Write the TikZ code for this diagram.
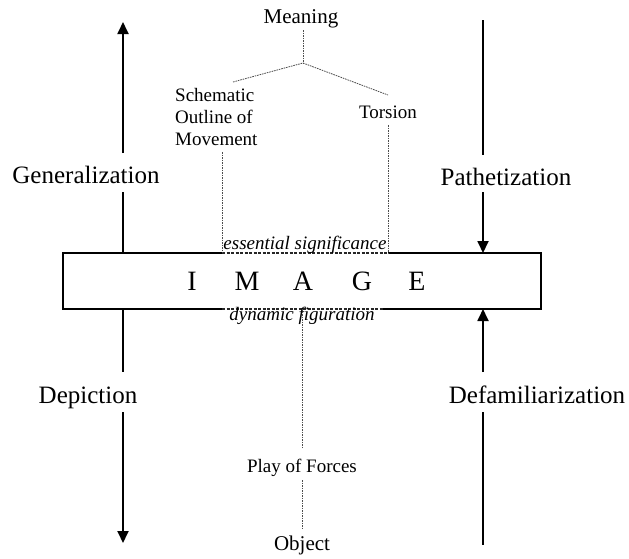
\documentclass[tikz,border=0pt]{standalone}
\usepackage{fontspec}
\setmainfont{Liberation Serif}
\usetikzlibrary{arrows.meta}
\begin{document}
\begin{tikzpicture}[x=1pt,y=-1pt,
  lbl/.style={font=\fontsize{25}{30}\selectfont, anchor=base, inner sep=0pt},
  mid/.style={font=\fontsize{21}{25}\selectfont, anchor=base, inner sep=0pt},
  small/.style={font=\fontsize{19}{22}\selectfont, anchor=base, inner sep=0pt},
  ital/.style={font=\fontsize{19}{22}\selectfont\itshape, anchor=base, inner sep=0pt},
  big/.style={font=\fontsize{28}{32}\selectfont, anchor=base, inner sep=0pt},
  solidln/.style={line width=1.8pt, line join=miter},
  dashln/.style={line width=0.8pt, dash pattern=on 1.6pt off 0.9pt, black!70},
  edgedash/.style={line width=1.2pt, dash pattern=on 3pt off 1.5pt, black!85},
  arr/.style={-{Triangle[width=11pt,length=12pt]}}]
\useasboundingbox (0,0) rectangle (629,558);

% box corners and dashed stretches
\coordinate (tl) at (63,253);
\coordinate (tr) at (541,253);
\coordinate (bl) at (63,309);
\coordinate (br) at (541,309);
\coordinate (ts1) at (222,253);
\coordinate (ts2) at (388,253);
\coordinate (bs1) at (222,309);
\coordinate (bs2) at (383,309);
\draw[solidln] (ts1) -- (tl) -- (bl) -- (bs1);
\draw[solidln] (bs2) -- (br) -- (tr) -- (ts2);
\draw[edgedash] (ts1) -- (ts2);
\draw[edgedash] (bs1) -- (bs2);

% IMAGE letters
\node[big] (i1) at (192,290) {I};
\node[big] (i2) at (247,290) {M};
\node[big] (i3) at (303,290) {A};
\node[big] (i4) at (362,290) {G};
\node[big] (i5) at (417,290) {E};

% side labels
\node[lbl] (gen) at (86,183) {Generalization};
\node[lbl] (dep) at (88,403) {Depiction};
\node[lbl] (pat) at (506,185) {Pathetization};
\node[lbl] (def) at (537,403) {Defamiliarization};

% left arrows
\coordinate (la0) at (123,22);
\coordinate (la1) at (123,153);
\coordinate (la2) at (123,192);
\coordinate (la3) at (123,253);
\coordinate (la4) at (123,309);
\coordinate (la5) at (123,372);
\coordinate (la6) at (123,412);
\coordinate (la7) at (123,543);
\draw[solidln, arr] (la1) -- (la0);
\draw[solidln] (la2) -- (la3);
\draw[solidln] (la4) -- (la5);
\draw[solidln, arr] (la6) -- (la7);

% right arrows
\coordinate (ra0) at (483,20);
\coordinate (ra1) at (483,155);
\coordinate (ra2) at (483,192);
\coordinate (ra3) at (483,253);
\coordinate (ra4) at (483,309);
\coordinate (ra5) at (483,372);
\coordinate (ra6) at (483,412);
\coordinate (ra7) at (483,545);
\draw[solidln] (ra0) -- (ra1);
\draw[solidln, arr] (ra2) -- (ra3);
\draw[solidln, arr] (ra5) -- (ra4);
\draw[solidln] (ra6) -- (ra7);

% top tree
\node[mid] (mean) at (301,23) {Meaning};
\node[small, anchor=base west, align=left] (sch) at (175,145) {Schematic\\Outline of\\Movement};
\node[small] (tor) at (388,118) {Torsion};
\coordinate (m0) at (303,30);
\coordinate (fork) at (303,63);
\coordinate (lb) at (233,82);
\coordinate (rb) at (388,95);
\draw[dashln] (m0) -- (fork);
\draw[dashln] (lb) -- (fork) -- (rb);
\coordinate (s0) at (222,152);
\coordinate (t0) at (388,125);
\draw[dashln] (s0) -- (ts1);
\draw[dashln] (t0) -- (ts2);

% italic labels
\node[ital] (ess) at (305,249) {essential significance};
\node[ital] (dyn) at (302,320) {dynamic figuration};

% bottom chain
\node[small] (play) at (302,472) {Play of Forces};
\node[mid] (obj) at (302,550) {Object};
\coordinate (c0) at (302,309);
\coordinate (c1) at (302,448);
\coordinate (c2) at (302,480);
\coordinate (c3) at (302,528);
\draw[dashln] (c0) -- (c1);
\draw[dashln] (c2) -- (c3);
\end{tikzpicture}
\end{document}
